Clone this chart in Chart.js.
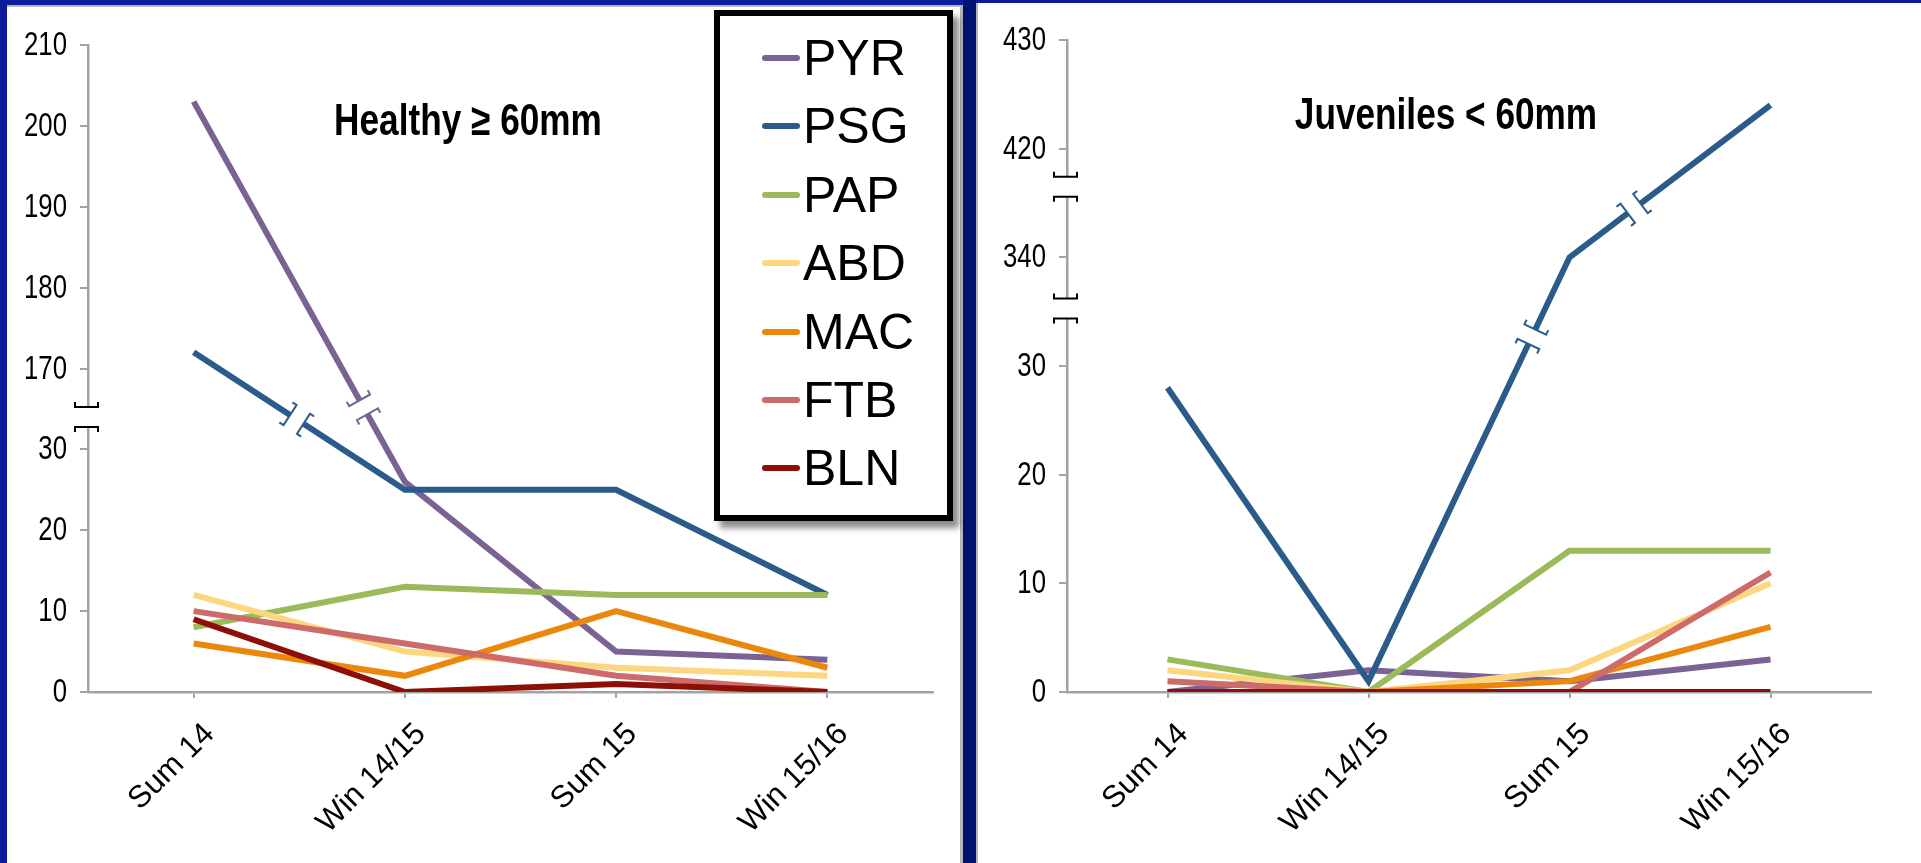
<!DOCTYPE html>
<html>
<head>
<meta charset="utf-8">
<script src="https://cdn.jsdelivr.net/npm/chart.js@4/dist/chart.umd.min.js"></script>
<style>
  body { margin: 0; width: 1921px; height: 863px; background: #fff; position: relative; overflow: hidden; }
  .band { position: absolute; background: #0b1c9c; }
  .panel { position: absolute; top: 0; height: 863px; }
  .title { position: absolute; font-family: 'Liberation Sans', Arial, sans-serif;
           font-weight: bold; font-size: 44px; color: #000; white-space: nowrap;
           transform: translate(-50%, -50%) scaleX(0.8); }
  #legend { position: absolute; left: 714px; top: 10px; width: 227px; height: 499px; border: 6px solid #000;
            background: #fff; box-shadow: 6px 7px 6px rgba(0,0,0,0.45); }
  .item { position: absolute; left: 42px; height: 50px; display: flex; align-items: center;
          font-family: 'Liberation Sans', Arial, sans-serif; font-size: 50px; color: #000; }
  .item i { display: inline-block; width: 38px; height: 6px; border-radius: 3px; margin-right: 3px; }
</style>
</head>
<body>
<div class="band" style="left:0;top:0;width:963px;height:5px"></div>
<div class="band" style="left:0;top:0;width:7px;height:863px"></div>
<div class="band" style="left:963px;top:0;width:13px;height:863px;background:#00126f"></div>
<div class="band" style="left:976px;top:0;width:945px;height:3px"></div>
<div class="band" style="left:7px;top:5px;width:954px;height:2px;background:#b5b5b5"></div>
<div class="band" style="left:960px;top:5px;width:3px;height:858px;background:#b5b5b5"></div>
<div class="band" style="left:976px;top:3px;width:2px;height:860px;background:#b5b5b5"></div>

<div class="panel" style="left:0;width:963px"><canvas id="leftChart"></canvas></div>
<div class="panel" style="left:976px;width:945px"><canvas id="rightChart"></canvas></div>

<div class="title" style="left:468px;top:120px">Healthy ≥ 60mm</div>
<div class="title" style="left:1446px;top:114px">Juveniles &lt; 60mm</div>
<div id="legend"></div>

<script>
const seasons = ['Sum 14', 'Win 14/15', 'Sum 15', 'Win 15/16'];
const species = ['PYR', 'PSG', 'PAP', 'ABD', 'MAC', 'FTB', 'BLN'];
const colors = ['#7a6394', '#2b5b8b', '#9bba5a', '#fdd680', '#ec870e', '#cc6b6a', '#8e0f06'];

// Healthy >= 60mm
const healthyPYR = [203, 26, 5, 4];
const healthyPSG = [172, 25, 25, 12];
const healthyPAP = [8, 13, 12, 12];
const healthyABD = [12, 5, 3, 2];
const healthyMAC = [6, 2, 10, 3];
const healthyFTB = [10, 6, 2, 0];
const healthyBLN = [9, 0, 1, 0];

// Juveniles < 60mm
const juvPYR = [0, 2, 1, 3];
const juvPSG = [28, 1, 340, 424];
const juvPAP = [3, 0, 13, 13];
const juvABD = [2, 0, 2, 10];
const juvMAC = [0, 0, 1, 6];
const juvFTB = [1, 0, 0, 11];
const juvBLN = [0, 0, 0, 0];

// broken axes: value -> axis step
const leftAxisVals = [0, 30, 170, 210];
const leftAxisSteps = [0, 3, 4, 8];
const leftTickLabels = ['0', '10', '20', '30', '170', '180', '190', '200', '210'];
const rightAxisVals = [0, 30, 340, 420, 430];
const rightAxisSteps = [0, 3, 4, 5, 6];
const rightTickLabels = ['0', '10', '20', '30', '340', '420', '430'];

function toAxis(v, vals, steps) {
  for (let i = 1; i < vals.length; i++) {
    if (v <= vals[i]) {
      return steps[i - 1] + (v - vals[i - 1]) / (vals[i] - vals[i - 1]) * (steps[i] - steps[i - 1]);
    }
  }
  return steps[steps.length - 1];
}

// legend
const legend = document.getElementById('legend');
species.forEach((s, i) => {
  const d = document.createElement('div');
  d.className = 'item';
  d.style.top = (17 + i * 68.4) + 'px';
  d.innerHTML = '<i style="background:' + colors[i] + '"></i>' + s;
  legend.appendChild(d);
});

const breakPlugin = {
  id: 'breaks',
  afterDatasetsDraw(chart, args, opts) {
    const ctx = chart.ctx;
    const ys = chart.scales.y;
    const ax = ys.right;
    ctx.save();
    (opts.axis || []).forEach(b => {
      const yp = ys.getPixelForValue(b);
      ctx.fillStyle = '#fff';
      ctx.fillRect(ax - 5, yp - 10, 10, 20);
      ctx.strokeStyle = '#000';
      ctx.lineWidth = 2;
      ctx.beginPath();
      ctx.moveTo(ax - 13, yp - 15); ctx.lineTo(ax - 13, yp - 10); ctx.lineTo(ax + 10, yp - 10); ctx.lineTo(ax + 10, yp - 15);
      ctx.moveTo(ax - 13, yp + 15); ctx.lineTo(ax - 13, yp + 10); ctx.lineTo(ax + 10, yp + 10); ctx.lineTo(ax + 10, yp + 15);
      ctx.stroke();
    });
    (opts.lines || []).forEach(lb => {
      const pts = chart.getDatasetMeta(lb.ds).data;
      const data = chart.data.datasets[lb.ds].data;
      const v0 = data[lb.seg], v1 = data[lb.seg + 1];
      const t = (lb.at - v0) / (v1 - v0);
      const p0 = pts[lb.seg], p1 = pts[lb.seg + 1];
      const px = p0.x + t * (p1.x - p0.x), py = p0.y + t * (p1.y - p0.y);
      let ux = p1.x - p0.x, uy = p1.y - p0.y;
      const len = Math.hypot(ux, uy); ux /= len; uy /= len;
      const nx = -uy, ny = ux, g = 8, h = 12, s = 5;
      ctx.strokeStyle = '#fff';
      ctx.lineWidth = 10;
      ctx.beginPath();
      ctx.moveTo(px - g * ux, py - g * uy); ctx.lineTo(px + g * ux, py + g * uy);
      ctx.stroke();
      ctx.strokeStyle = chart.data.datasets[lb.ds].borderColor;
      ctx.lineWidth = 2;
      [-1, 1].forEach(sg => {
        const cx = px + sg * g * ux, cy = py + sg * g * uy;
        ctx.beginPath();
        ctx.moveTo(cx - h * nx + sg * s * ux, cy - h * ny + sg * s * uy);
        ctx.lineTo(cx - h * nx, cy - h * ny);
        ctx.lineTo(cx + h * nx, cy + h * ny);
        ctx.lineTo(cx + h * nx + sg * s * ux, cy + h * ny + sg * s * uy);
        ctx.stroke();
      });
    });
    // narrow y tick labels, one per axis tick
    ctx.fillStyle = '#000';
    ctx.font = "33px 'Liberation Sans', Arial, sans-serif";
    ctx.textAlign = 'right';
    ctx.textBaseline = 'middle';
    ys.ticks.forEach(tk => {
      ctx.save();
      ctx.translate(ax - 21, ys.getPixelForValue(tk.value) + 1);
      ctx.scale(0.78, 1);
      ctx.fillText(opts.labels[tk.value], 0, 0);
      ctx.restore();
    });
    ctx.restore();
  }
};

function makeChart(id, series, vals, steps, tickLabels, yWidth, pad, breaks) {
  breaks.labels = tickLabels;
  return new Chart(document.getElementById(id), {
    type: 'line',
    data: {
      labels: seasons,
      datasets: series.map((d, i) => ({
        label: species[i],
        data: d.map(v => toAxis(v, vals, steps)),
        borderColor: colors[i],
        backgroundColor: colors[i],
        borderWidth: 6,
        pointRadius: 0,
        tension: 0,
        order: series.length - i
      }))
    },
    options: {
      responsive: true,
      maintainAspectRatio: false,
      animation: false,
      layout: { padding: pad },
      plugins: {
        legend: { display: false },
        tooltip: { enabled: false },
        breaks: breaks
      },
      scales: {
        x: {
          offset: true,
          grid: { offset: false, drawOnChartArea: false, tickLength: 6, color: '#a3a3a3', lineWidth: 2 },
          border: { color: '#a3a3a3', width: 2.5 },
          ticks: {
            color: '#000', minRotation: 45, maxRotation: 45, padding: 18, labelOffset: 16,
            font: { family: "'Liberation Sans', Arial, sans-serif", size: 31 }
          },
          afterFit: s => { s.height = 171; }
        },
        y: {
          min: 0,
          max: steps[steps.length - 1],
          grid: { drawOnChartArea: false, tickLength: 8, color: '#a3a3a3', lineWidth: 2 },
          border: { color: '#a3a3a3', width: 2.5 },
          ticks: { stepSize: 1, display: false },
          afterFit: s => { s.width = yWidth; }
        }
      }
    },
    plugins: [breakPlugin]
  });
}

makeChart('leftChart',
  [healthyPYR, healthyPSG, healthyPAP, healthyABD, healthyMAC, healthyFTB, healthyBLN],
  leftAxisVals, leftAxisSteps, leftTickLabels, 88,
  { left: 0, top: 45, right: 30, bottom: 0 },
  { axis: [3.4], lines: [{ ds: 0, seg: 0, at: 3.52 }, { ds: 1, seg: 0, at: 3.37 }] });

makeChart('rightChart',
  [juvPYR, juvPSG, juvPAP, juvABD, juvMAC, juvFTB, juvBLN],
  rightAxisVals, rightAxisSteps, rightTickLabels, 91,
  { left: 0, top: 40, right: 50, bottom: 0 },
  { axis: [3.53, 4.65], lines: [{ ds: 1, seg: 1, at: 3.27 }, { ds: 1, seg: 2, at: 4.45 }] });
</script>
</body>
</html>
